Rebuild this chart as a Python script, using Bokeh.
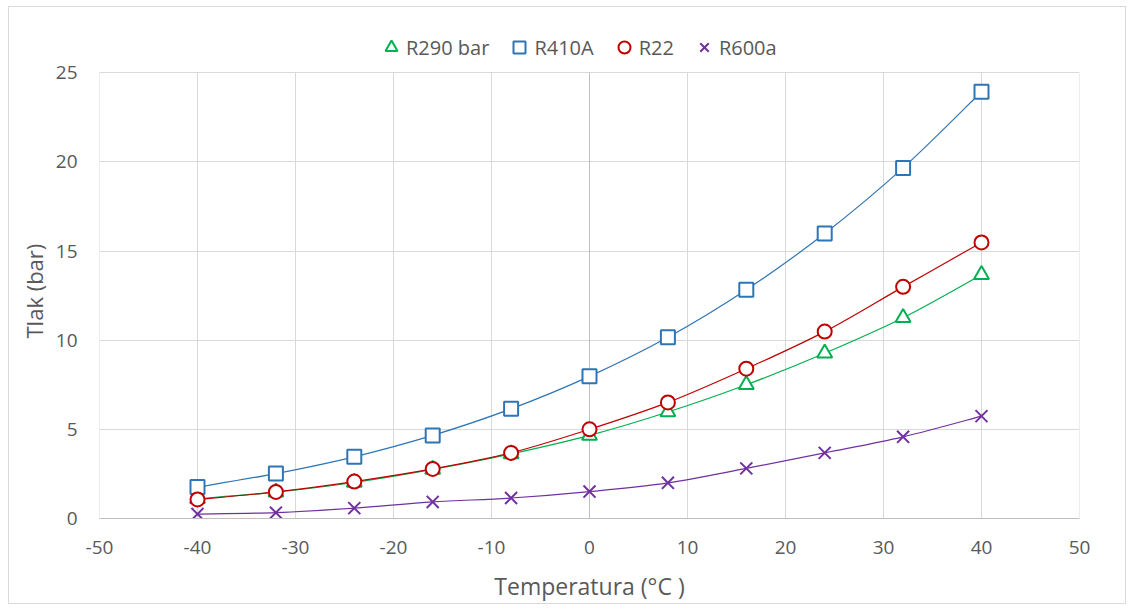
from bokeh.plotting import figure
from bokeh.models import Legend, LegendItem, FixedTicker, PrintfTickFormatter, Title
from bokeh.embed import file_html
from bokeh.resources import INLINE

temps = [-40, -32, -24, -16, -8, 0, 8, 16, 24, 32, 40]
r290 = [1.11, 1.48, 2.02, 2.75, 3.62, 4.66, 5.97, 7.50, 9.27, 11.26, 13.67]
r410a = [1.76, 2.52, 3.46, 4.66, 6.15, 7.97, 10.16, 12.83, 15.98, 19.66, 23.93]
r22 = [1.07, 1.49, 2.07, 2.78, 3.68, 5.00, 6.51, 8.40, 10.48, 12.99, 15.48]
r600a = [0.25, 0.33, 0.58, 0.93, 1.15, 1.51, 2.00, 2.81, 3.68, 4.58, 5.74]

x_ticks = [-50, -40, -30, -20, -10, 0, 10, 20, 30, 40, 50]
y_ticks = [0, 5, 10, 15, 20, 25]

series = [
    ("R290 bar", r290, "#00B050", "triangle"),
    ("R410A", r410a, "#2E75B6", "square"),
    ("R22", r22, "#C00000", "circle"),
    ("R600a", r600a, "#7030A0", "x"),
]

FONT = "Open Sans"
GRAY = "#595959"

# layout (pixels): the value range is 444 px tall; 45 px extra room above it for the legend
AREA_H = 444
EXTRA_TOP = 45
y_top = y_ticks[-1] + EXTRA_TOP * (y_ticks[-1] - y_ticks[0]) / AREA_H

p = figure(width=1118, height=598, output_backend="svg", toolbar_location=None,
           x_range=(x_ticks[0], x_ticks[-1]), y_range=(y_ticks[0], y_top),
           min_border_left=90, min_border_right=48, min_border_top=20, min_border_bottom=87)
p.styles = {"border": "1px solid #d9d9d9", "box-sizing": "border-box",
            "margin-left": "8px", "margin-top": "6px"}
p.outline_line_color = None

p.xaxis.ticker = FixedTicker(ticks=x_ticks)
p.yaxis.ticker = FixedTicker(ticks=y_ticks)
p.xaxis.formatter = PrintfTickFormatter(format="%d")
p.yaxis.formatter = PrintfTickFormatter(format="%d")
for ax in (p.xaxis[0], p.yaxis[0]):
    ax.major_tick_line_color = None
    ax.minor_tick_line_color = None
    ax.major_label_text_font = FONT
    ax.major_label_text_font_size = "19px"
    ax.major_label_text_color = GRAY
    ax.axis_label_text_font = FONT
    ax.axis_label_text_font_size = "23px"
    ax.axis_label_text_color = GRAY
    ax.axis_label_text_font_style = "normal"
p.xaxis.axis_line_color = "#bfbfbf"
p.yaxis.axis_line_color = None
p.xaxis.major_label_standoff = 16
p.yaxis.major_label_standoff = 16
p.xaxis.axis_label = "Temperatura (°C )"
p.xaxis.axis_label_standoff = 13
p.xgrid.visible = False
p.ygrid.grid_line_color = "#d9d9d9"

# y-axis title, placed along the value range rather than the whole frame
ytitle = Title(text="Tlak (bar)", align="left", offset=180, standoff=8,
               text_font=FONT, text_font_size="22px", text_color=GRAY,
               text_font_style="normal")
p.add_layout(ytitle, "left")

# vertical gridlines limited to the value range; the one at 0 is the (darker) vertical axis line
grid_x = [t for t in x_ticks if t != 0]
p.segment(x0=grid_x, y0=[y_ticks[0]] * len(grid_x), x1=grid_x, y1=[y_ticks[-1]] * len(grid_x),
          line_color="#d9d9d9", line_width=1)
p.segment(x0=[0], y0=[y_ticks[0]], x1=[0], y1=[y_ticks[-1]], line_color="#bfbfbf", line_width=1)


def smooth_controls(xs, ys):
    n = len(xs)
    x0, y0, x1, y1, cx0, cy0, cx1, cy1 = [], [], [], [], [], [], [], []
    for i in range(n - 1):
        im = max(i - 1, 0)
        ip2 = min(i + 2, n - 1)
        x0.append(xs[i]); y0.append(ys[i])
        x1.append(xs[i + 1]); y1.append(ys[i + 1])
        cx0.append(xs[i] + (xs[i + 1] - xs[im]) / 6)
        cy0.append(ys[i] + (ys[i + 1] - ys[im]) / 6)
        cx1.append(xs[i + 1] - (xs[ip2] - xs[i]) / 6)
        cy1.append(ys[i + 1] - (ys[ip2] - ys[i]) / 6)
    return dict(x0=x0, y0=y0, x1=x1, y1=y1, cx0=cx0, cy0=cy0, cx1=cx1, cy1=cy1)


items = []
for name, vals, color, marker in series:
    c = smooth_controls(temps, vals)
    p.bezier(x0=c["x0"], y0=c["y0"], x1=c["x1"], y1=c["y1"],
             cx0=c["cx0"], cy0=c["cy0"], cx1=c["cx1"], cy1=c["cy1"],
             line_color=color, line_width=1.2)
sizes = {"triangle": 15, "square": 14, "circle": 14, "x": 17}
for name, vals, color, marker in series:
    r = p.scatter(temps, vals, marker=marker, size=sizes[marker], line_color=color,
                  fill_color="white" if marker != "x" else None, line_width=2)
    items.append(LegendItem(label=name, renderers=[r]))

legend = Legend(items=items, orientation="horizontal", location=(277, 456),
                padding=0, margin=0, spacing=15, label_standoff=0,
                glyph_width=30, glyph_height=30,
                label_text_font=FONT, label_text_font_size="20px",
                label_text_color=GRAY, border_line_color=None,
                background_fill_alpha=0)
p.add_layout(legend, "center")

open("out.html", "w").write(file_html(p, INLINE))
